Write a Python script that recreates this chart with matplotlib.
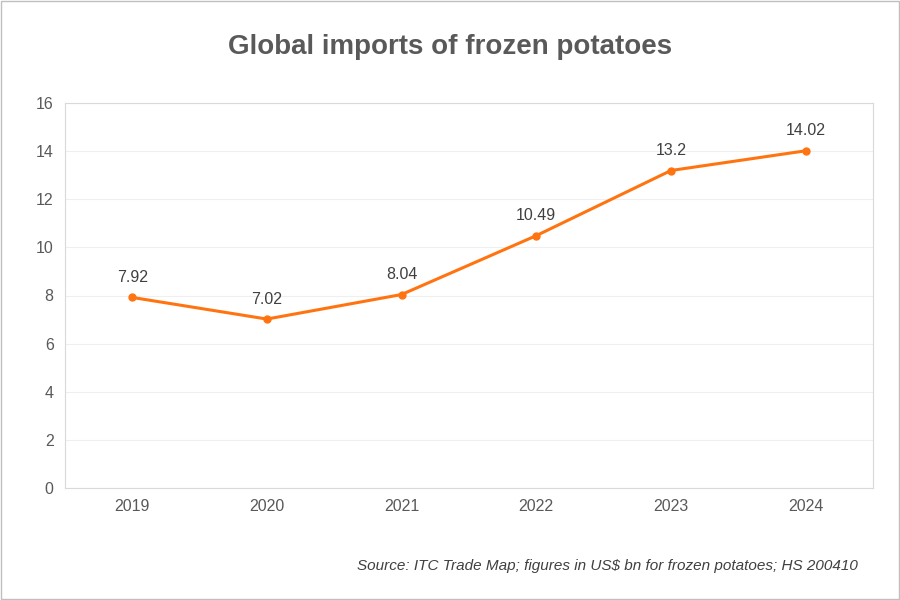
import matplotlib.pyplot as plt
from matplotlib.patches import Rectangle

years = ["2019", "2020", "2021", "2022", "2023", "2024"]
imports_bn = [7.92, 7.02, 8.04, 10.49, 13.2, 14.02]
value_labels = ["7.92", "7.02", "8.04", "10.49", "13.2", "14.02"]
y_ticks = [0, 2, 4, 6, 8, 10, 12, 14, 16]

plt.rcParams["font.family"] = "Liberation Sans"
fig = plt.figure(figsize=(9, 6), dpi=100)
fig.patches.append(Rectangle((0.001, 0.001), 0.998, 0.998, transform=fig.transFigure,
                             fill=False, edgecolor="#bfbfbf", linewidth=1))
ax = fig.add_axes([0.072, 0.187, 0.898, 0.641])

x = range(len(years))
ax.plot(x, imports_bn, color="#ff7410", linewidth=2.2, marker="o", markersize=5, zorder=3)
for xi, v, lab in zip(x, imports_bn, value_labels):
    ax.annotate(lab, (xi, v), xytext=(0, 9), textcoords="offset points",
                ha="center", va="bottom", fontsize=11.5, color="#404040")

ax.set_xlim(-0.5, len(years) - 0.5)
ax.set_ylim(0, 16)
ax.set_yticks(y_ticks)
ax.set_xticks(list(x))
ax.set_xticklabels(years)
ax.tick_params(length=0, labelsize=11.5, labelcolor="#595959", pad=8)
ax.grid(axis="y", color="#efefef", linewidth=0.8)
ax.set_axisbelow(True)
for s in ax.spines.values():
    s.set_color("#d9d9d9")

fig.text(0.5, 0.922, "Global imports of frozen potatoes", ha="center", va="center",
         fontsize=20, fontweight="bold", color="#595959")
fig.text(0.953, 0.057, "Source: ITC Trade Map; figures in US$ bn for frozen potatoes; HS 200410",
         ha="right", va="center", fontsize=11, style="italic", color="#404040")

fig.savefig("out.png", dpi=100)
